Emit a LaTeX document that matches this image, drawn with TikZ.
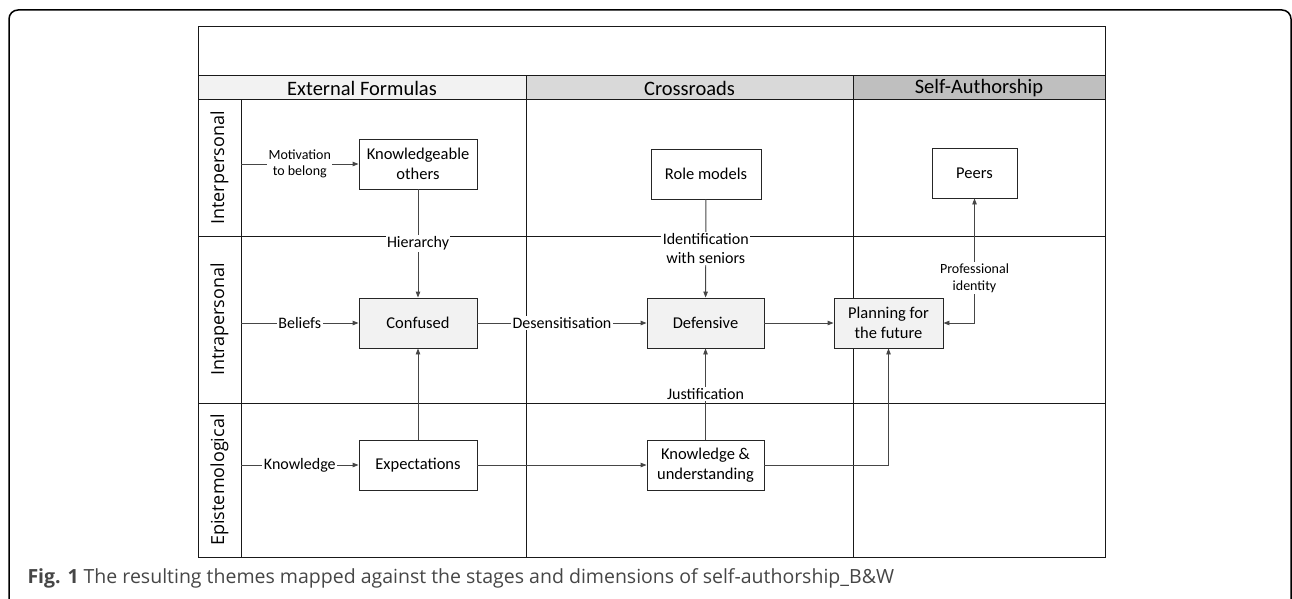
\documentclass[tikz,border=0pt]{standalone}
\usepackage{fontspec}
\setmainfont{Carlito}
\newfontfamily\rowfont{Open Sans}
\usepackage{xcolor}
\definecolor{boxgray}{RGB}{242,242,242}
\definecolor{hdrlight}{RGB}{242,242,242}
\definecolor{hdrmid}{RGB}{217,217,217}
\definecolor{hdrdark}{RGB}{191,191,191}
\definecolor{linkgray}{RGB}{70,70,70}
\definecolor{capgray}{RGB}{70,70,70}
\usepackage{tikz}
\usetikzlibrary{positioning}
\usetikzlibrary{arrows.meta}
\tikzset{
  theme/.style={draw=black!85,line width=0.9pt,minimum height=50pt,align=center,
    font=\fontsize{16.5}{19.5}\selectfont,inner sep=2pt},
  themegray/.style={theme,fill=boxgray},
  link/.style={draw=linkgray,line width=0.9pt,-{Triangle[length=6pt,width=4.5pt]}},
  lbl/.style={fill=white,inner sep=1.5pt,align=center,font=\fontsize{16}{19}\selectfont},
  smalllbl/.style={lbl,font=\fontsize{14}{16.5}\selectfont},
  grid/.style={draw=black!90,line width=1pt},
  rowlbl/.style={rotate=90,font=\rowfont\fontsize{18}{21}\selectfont},
  stagelbl/.style={font=\fontsize{20.5}{24}\selectfont}
}
\begin{document}
\begin{tikzpicture}[x=1pt,y=-1pt]
\useasboundingbox (0,0) rectangle (1292,599);
\draw[line width=1.5pt,rounded corners=9pt] (9,620) -- (9,10) -- (1291,10) -- (1291,620);

\fill[hdrlight] (198,76) rectangle (526,100);
\fill[hdrmid] (526,76) rectangle (853,100);
\fill[hdrdark] (853,76) rectangle (1105,100);
\draw[grid] (198,27) rectangle (1105,557);
\draw[grid] (198,76) -- (1105,76);
\draw[grid] (198,100) -- (1105,100);
\draw[grid] (198,236) -- (1105,236);
\draw[grid] (198,403) -- (1105,403);
\draw[grid] (241,100) -- (241,557);
\draw[grid] (526,76) -- (526,557);
\draw[grid] (853,76) -- (853,557);

\node[stagelbl] (hdrExt) at (362,88) {External Formulas};
\node[stagelbl] (hdrCross) at (689.5,88) {Crossroads};
\node[stagelbl] (hdrSelf) at (979,88) {Self-Authorship};
\node[rowlbl] (rowInter) at (219.5,168) {Interpersonal};
\node[rowlbl] (rowIntra) at (219.5,319.5) {Intrapersonal};
\node[rowlbl] (rowEpist) at (219.5,480) {Epistemological};

\node[theme,minimum width=118pt] (knowOthers) at (418,164) {Knowledgeable\\others};
\node[themegray,minimum width=118pt] (confused) at (418,323) {Confused};
\node[theme,minimum width=118pt] (expect) at (418,465) {Expectations};
\node[theme,minimum width=110pt] (roleModels) at (706,174) {Role models};
\node[themegray,minimum width=117pt] (defensive) at (705.5,323) {Defensive};
\node[theme,minimum width=117pt] (knowUnder) at (705.5,465) {Knowledge \&\\understanding};
\node[themegray,minimum width=109pt] (planning) at (888.5,323) {Planning for\\the future};
\node[theme,minimum width=85pt] (peers) at (974.5,173) {Peers};

\coordinate (startInter) at (241,164);
\coordinate (startIntra) at (241,323);
\coordinate (startEpist) at (241,465);

\draw[link] (startInter) -- node[smalllbl] {Motivation\\to belong} (knowOthers);
\draw[link] (startIntra) -- node[lbl] {Beliefs} (confused);
\draw[link] (startEpist) -- node[lbl] {Knowledge} (expect);
\draw[link] (knowOthers) -- node[lbl] {Hierarchy} (confused);
\draw[link] (expect) -- (confused);
\draw[link] (confused) -- node[lbl] {Desensitisation} (defensive);
\draw[link] (expect) -- (knowUnder);
\draw[link] (roleModels) -- node[lbl] {Identification\\with seniors} (defensive);
\draw[link] (knowUnder) -- node[lbl] {Justification} (defensive);
\draw[link] (defensive) -- (planning);
\draw[link] (knowUnder) -| (planning);
\draw[link,{Triangle[length=6pt,width=4.5pt]}-{Triangle[length=6pt,width=4.5pt]}] (planning) -| node[smalllbl,pos=0.68] {Professional\\identity} (peers);

\node[anchor=west,text=capgray,font=\rowfont\fontsize{19.5}{22}\selectfont] (caption) at (24,578)
  {\textbf{Fig. 1} The resulting themes mapped against the stages and dimensions of self-authorship\_B\&W};
\end{tikzpicture}
\end{document}
